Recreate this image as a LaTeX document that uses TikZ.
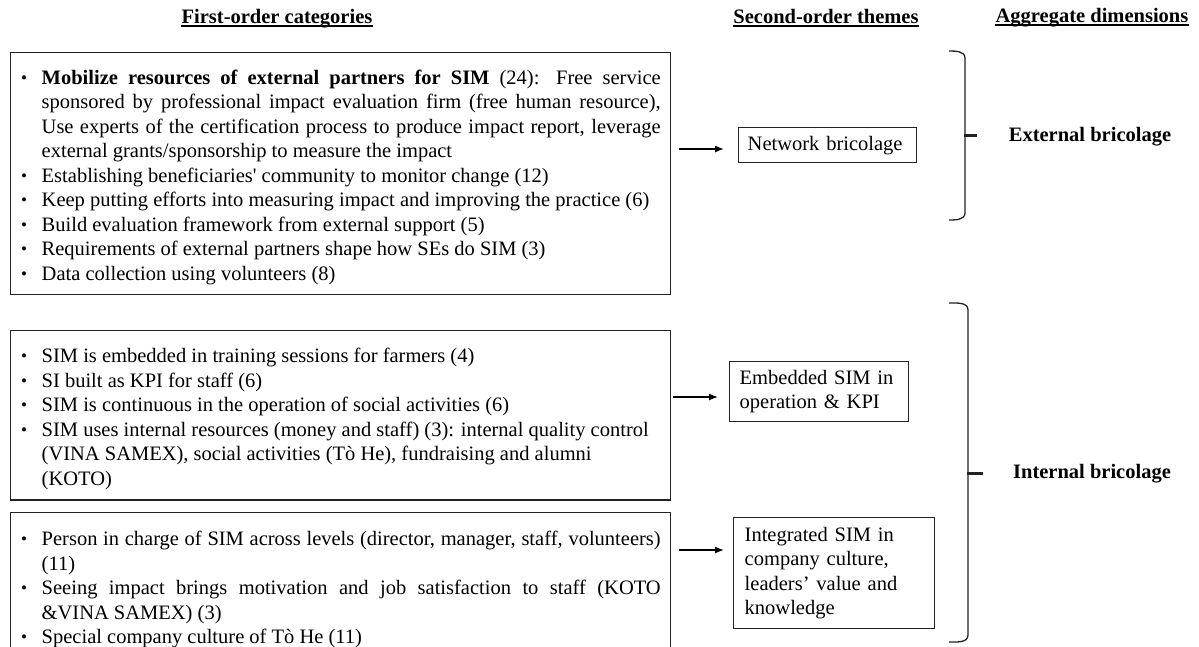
\documentclass[tikz,border=0pt]{standalone}
\usepackage{fontspec}
\setmainfont{Liberation Serif}
\usetikzlibrary{arrows.meta}

% one bulleted entry of a category list
\newcommand{\itm}[1]{\par\hangindent=21pt\hangafter=1\noindent
  \makebox[21pt][l]{\hspace{0.5pt}\raisebox{0.8pt}{\fontsize{17}{17}\selectfont\textbullet}}\strut#1\strut\par}
% ragged line end inside a justified entry
\newcommand{\rbreak}{\hfil\break}

\definecolor{edge}{HTML}{222222}

\tikzset{
  body/.style={font=\fontsize{20.5}{24.5}\selectfont},
  catbox/.style={body, draw=edge, line width=1.4pt, text width=640pt,
    inner xsep=10pt, align=justify, anchor=north west},
  themebox/.style={body, draw=edge, line width=1.4pt, align=left, anchor=north west},
  heading/.style={font=\fontsize{20.5}{24.5}\selectfont\bfseries, inner sep=0pt, anchor=base},
  dimlabel/.style={font=\fontsize{20.5}{24.5}\selectfont\bfseries, inner sep=0pt, anchor=base},
  arr/.style={-{Latex[length=9pt,width=7pt]}, line width=1.3pt},
  bracket/.style={line width=1.3pt, draw=edge},
  tick/.style={line width=3pt, draw=edge},
  uline/.style={line width=1.2pt}
}

\begin{document}
\begin{tikzpicture}[x=1pt, y=-1pt]
\clip (0,0) rectangle (1199,646);
\fill[white] (0,0) rectangle (1199,646);

% column headings
\node[heading] (h1) at (277,23) {First-order categories};
\node[heading] (h2) at (826,23) {Second-order themes};
\node[heading] (h3) at (1092,22) {Aggregate dimensions};
\foreach \h in {h1,h2,h3}
  \draw[uline] ([yshift=-3pt]\h.base west) -- ([yshift=-3pt]\h.base east);

% first-order categories
\node[catbox, inner ysep=7pt] (b1) at (10,52) {%
  \itm{\textbf{Mobilize resources of external partners for SIM} (24): Free service\linebreak
  sponsored by professional impact evaluation firm (free human resource),\linebreak
  Use experts of the certification process to produce impact report, leverage\linebreak
  external grants/sponsorship to measure the impact}
  \itm{Establishing beneficiaries\textquotesingle\ community to monitor change (12)}
  \itm{Keep putting efforts into measuring impact and improving the practice (6)}
  \itm{Build evaluation framework from external support (5)}
  \itm{Requirements of external partners shape how SEs do SIM (3)}
  \itm{Data collection using volunteers (8)}};

\node[catbox, inner ysep=7.5pt] (b2) at (10,330) {%
  \itm{SIM is embedded in training sessions for farmers (4)}
  \itm{SI built as KPI for staff (6)}
  \itm{SIM is continuous in the operation of social activities (6)}
  \itm{SIM uses internal resources (money and staff) (3): internal quality control\rbreak
  (VINA SAMEX), social activities (Tò He), fundraising and alumni\rbreak
  (KOTO)}};

\node[catbox, inner ysep=8.5pt] (b3) at (10,512) {%
  \itm{Person in charge of SIM across levels (director, manager, staff, volunteers)\linebreak
  (11)}
  \itm{Seeing impact brings motivation and job satisfaction to staff (KOTO\linebreak
  \&VINA SAMEX) (3)}
  \itm{Special company culture of Tò He (11)}};

% second-order themes
\node[themebox, inner xsep=9pt, inner ysep=5.25pt, text width=160pt] (n1) at (738,127)
  {\strut Network bricolage\strut};
\node[themebox, inner xsep=10pt, inner ysep=5.5pt, text width=159pt] (n2) at (729,361)
  {\strut Embedded SIM in\\operation \& KPI\strut};
\node[themebox, inner xsep=11pt, inner ysep=6.5pt, text width=179pt] (n3) at (733,517)
  {\strut Integrated SIM in\\company culture,\\leaders’ value and\\knowledge\strut};

% links from categories to themes
\coordinate (r1) at (0,149);
\coordinate (r2) at (0,397);
\coordinate (r3) at (0,550);
\draw[arr, shorten <=8pt, shorten >=14pt] (b1.east |- r1) -- (n1.west |- r1);
\draw[arr, shorten <=2pt, shorten >=11pt] (b2.east |- r2) -- (n2.west |- r2);
\draw[arr, shorten <=8pt, shorten >=9pt] (b3.east |- r3) -- (n3.west |- r3);

% brackets grouping themes into dimensions
\draw[bracket] (949,51) to[out=0,in=90] (965,58) -- (965,213)
  to[out=-90,in=0] (949,220);
\draw[tick] (963.5,135) -- (977,135);
\draw[bracket] (949,303) to[out=0,in=90] (968,310) -- (968,635)
  to[out=-90,in=0] (949,642);
\draw[tick] (966.5,473) -- (983,473);

% aggregate dimensions
\node[dimlabel] (d1) at (1090,141) {External bricolage};
\node[dimlabel] (d2) at (1092,478) {Internal bricolage};
\end{tikzpicture}
\end{document}
